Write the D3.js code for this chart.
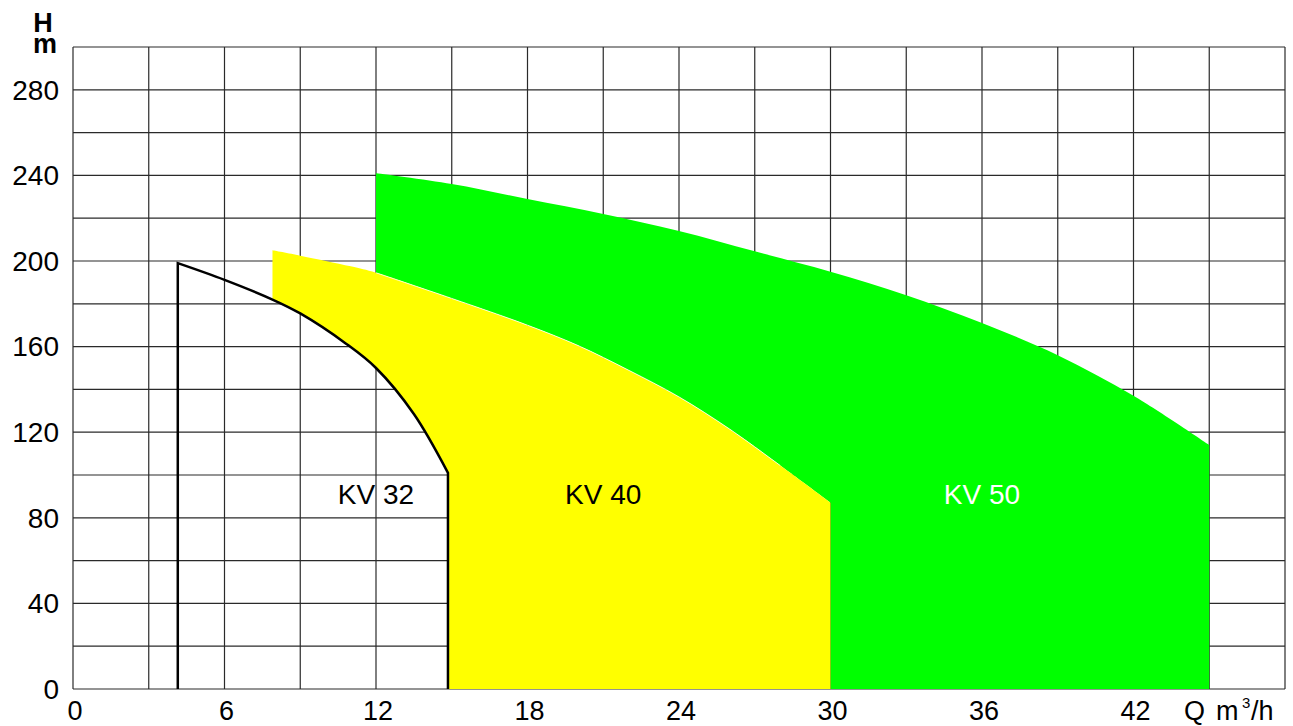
<!DOCTYPE html>
<html>
<head>
<meta charset="utf-8">
<script src="https://cdn.jsdelivr.net/npm/d3@7"></script>
<style>
	body { margin: 0; background: #fff; }
	text { font-family: "Liberation Sans", Arial, sans-serif; }
</style>
</head>
<body>
<div id="visHolder"></div>
<script>
// pump curves, Q in m3/h and H in m
const kv32Curve = [
	[4.15, 199], [6, 191.2], [7.9, 182], [9, 175.5], [10.8, 161.5],
	[12, 150], [13.5, 128.5], [14.85, 101],
];
const kv40Top = [
	[7.9, 205], [9, 202.5], [11, 197.5], [12, 194.5], [15, 182.5], [18, 170],
	[20, 160.5], [22, 149], [24, 136.5], [26, 121.5], [28, 104.5], [30, 87],
];
const kv50Top = [
	[12, 241], [15, 236], [18, 229], [21, 222], [24, 214], [27, 204.5],
	[30, 195], [33, 184], [36, 171], [39, 156], [42, 137], [45, 114],
];
const xTicks = [0, 6, 12, 18, 24, 30, 36, 42];
const yTicks = [0, 40, 80, 120, 160, 200, 240, 280];
const labels = [
	{ text: "KV 32", q: 12, h: 91, color: "#000" },
	{ text: "KV 40", q: 21, h: 91, color: "#000" },
	{ text: "KV 50", q: 36, h: 91, color: "#fff" },
];

const width = 1293;
const height = 726;
const plot = { left: 73, top: 47, right: 1285, bottom: 689 };

const x = d3.scaleLinear().domain([0, 48]).range([plot.left, plot.right]);
const y = d3.scaleLinear().domain([0, 300]).range([plot.bottom, plot.top]);

const svg = d3
	.select("#visHolder")
	.append("svg")
	.attr("width", width)
	.attr("height", height);

const line = d3
	.line()
	.x((d) => x(d[0]))
	.y((d) => y(d[1]))
	.curve(d3.curveCatmullRom.alpha(0.5));

// path pieces joined after a first point
const cont = (pts) => line(pts).replace(/^M/, "L");
const pt = (q, h) => `L${x(q)},${y(h)}`;

createGrid();
createAreas();
createKv32();
createAxes();
createLabels();

function createGrid() {
	const grid = svg.append("g").attr("stroke", "#2a2a2a").attr("stroke-width", 1.2);
	grid
		.selectAll("line.v")
		.data(d3.range(0, 49, 3))
		.join("line")
		.attr("class", "v")
		.attr("x1", x)
		.attr("x2", x)
		.attr("y1", y(0))
		.attr("y2", y(300));
	grid
		.selectAll("line.h")
		.data(d3.range(0, 301, 20))
		.join("line")
		.attr("class", "h")
		.attr("x1", x(0))
		.attr("x2", x(48))
		.attr("y1", y)
		.attr("y2", y);
}

function createAreas() {
	const kv40Lower = kv40Top.filter((d) => d[0] >= 12).reverse();
	const green =
		line(kv50Top) + pt(45, 0) + pt(30, 0) + cont(kv40Lower) + "Z";
	svg.append("path").attr("d", green).attr("fill", "#00ff00");

	const kv32Lower = kv32Curve.filter((d) => d[0] >= 7.9).reverse();
	const yellow =
		line(kv40Top) + pt(30, 0) + pt(14.85, 0) + cont(kv32Lower) + "Z";
	svg.append("path").attr("d", yellow).attr("fill", "#ffff00");

	// thin seam between the two fills
	svg
		.append("path")
		.attr("d", line(kv40Top.filter((d) => d[0] >= 12 && d[0] <= 28)))
		.attr("fill", "none")
		.attr("stroke", "#fff")
		.attr("stroke-width", 0.8);
}

function createKv32() {
	const first = kv32Curve[0];
	const last = kv32Curve[kv32Curve.length - 1];
	const d =
		`M${x(first[0])},${y(0)}` + cont(kv32Curve) + pt(last[0], 0);
	svg
		.append("path")
		.attr("d", d)
		.attr("fill", "none")
		.attr("stroke", "#000")
		.attr("stroke-width", 2.5);
}

function createAxes() {
	svg
		.append("g")
		.selectAll("text")
		.data(xTicks)
		.join("text")
		.attr("x", (d) => x(d) + 2)
		.attr("y", 720)
		.attr("text-anchor", "middle")
		.attr("font-size", 27)
		.text((d) => d);

	svg
		.append("g")
		.selectAll("text")
		.data(yTicks)
		.join("text")
		.attr("x", 59)
		.attr("y", (d) => y(d))
		.attr("dy", "0.35em")
		.attr("text-anchor", "end")
		.attr("font-size", 28)
		.text((d) => d);

	const qLabel = svg
		.append("text")
		.attr("y", 720)
		.attr("font-size", 27);
	qLabel.append("tspan").attr("x", 1184).text("Q");
	qLabel.append("tspan").attr("x", 1216).text("m");
	qLabel
		.append("tspan")
		.attr("x", 1242)
		.attr("font-size", 15)
		.attr("dy", -12)
		.text("3");
	qLabel.append("tspan").attr("x", 1251).attr("dy", 12).text("/h");

	svg
		.append("text")
		.attr("x", 43)
		.attr("y", 32)
		.attr("text-anchor", "middle")
		.attr("font-size", 27)
		.attr("font-weight", "bold")
		.text("H");
	svg
		.append("text")
		.attr("x", 45)
		.attr("y", 53)
		.attr("text-anchor", "middle")
		.attr("font-size", 27)
		.attr("font-weight", "bold")
		.text("m");
}

function createLabels() {
	svg
		.append("g")
		.selectAll("text")
		.data(labels)
		.join("text")
		.attr("x", (d) => x(d.q))
		.attr("y", (d) => y(d.h))
		.attr("dy", "0.35em")
		.attr("text-anchor", "middle")
		.attr("font-size", 28)
		.attr("fill", (d) => d.color)
		.text((d) => d.text);
}
</script>
</body>
</html>
